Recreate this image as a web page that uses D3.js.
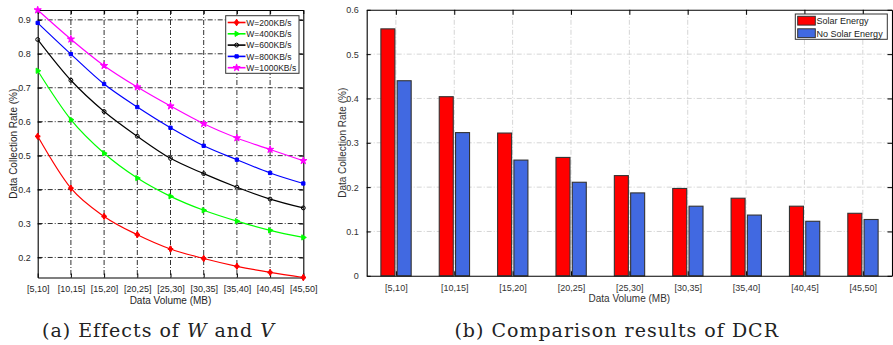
<!DOCTYPE html>
<html>
<head>
<meta charset="utf-8">
<script src="https://cdn.jsdelivr.net/npm/d3@7"></script>
<style>
  html, body { margin: 0; padding: 0; background: #fff; }
  svg { display: block; }
</style>
</head>
<body>
<svg id="fig" width="893" height="345" font-family="Liberation Sans, Arial, sans-serif"></svg>
<script>
// ---- data ----
const categories = ["[5,10]", "[10,15]", "[15,20]", "[20,25]", "[25,30]", "[30,35]", "[35,40]", "[40,45]", "[45,50]"];

const rateW200  = [0.557, 0.404, 0.321, 0.267, 0.225, 0.197, 0.174, 0.156, 0.141];
const rateW400  = [0.750, 0.606, 0.507, 0.434, 0.380, 0.339, 0.307, 0.280, 0.259];
const rateW600  = [0.842, 0.722, 0.630, 0.557, 0.492, 0.447, 0.407, 0.372, 0.346];
const rateW800  = [0.891, 0.799, 0.711, 0.643, 0.582, 0.529, 0.488, 0.449, 0.418];
const rateW1000 = [0.929, 0.843, 0.765, 0.702, 0.646, 0.594, 0.552, 0.518, 0.485];
const lineSeriesNames = ["W=200KB/s", "W=400KB/s", "W=600KB/s", "W=800KB/s", "W=1000KB/s"];

const solarEnergy   = [0.557, 0.404, 0.322, 0.267, 0.226, 0.197, 0.175, 0.157, 0.141];
const noSolarEnergy = [0.440, 0.323, 0.261, 0.211, 0.187, 0.157, 0.137, 0.123, 0.127];
const barSeriesNames = ["Solar Energy", "No Solar Energy"];

const leftYTicks  = [0.2, 0.3, 0.4, 0.5, 0.6, 0.7, 0.8, 0.9];
const rightYTicks = [0, 0.1, 0.2, 0.3, 0.4, 0.5, 0.6];

const svg = d3.select("#fig");

// ================= (a) line chart =================
const A = { left: 37.7, right: 303.3, top: 10, bottom: 277.5 };
const lineSeries = [
  { name: lineSeriesNames[0], values: rateW200,  color: "#ff0000", marker: "plus" },
  { name: lineSeriesNames[1], values: rateW400,  color: "#00ff00", marker: "triangle" },
  { name: lineSeriesNames[2], values: rateW600,  color: "#000000", marker: "circle" },
  { name: lineSeriesNames[3], values: rateW800,  color: "#0000ff", marker: "square" },
  { name: lineSeriesNames[4], values: rateW1000, color: "#ff00ff", marker: "star" }
];

const xA = d3.scalePoint().domain(categories).range([A.left, A.right]);
const allVals = lineSeries.flatMap(s => s.values);
const yA = d3.scaleLinear().domain(d3.extent(allVals)).range([A.bottom, A.top]);

const gA = svg.append("g");

// dash-dot grid
const gridA = gA.append("g")
  .attr("stroke", "#1a1a1a").attr("stroke-width", 0.9)
  .attr("stroke-dasharray", "5,2,1,2");
gridA.selectAll("line.v").data(categories.slice(1, -1)).join("line")
  .attr("x1", d => xA(d)).attr("x2", d => xA(d))
  .attr("y1", A.top).attr("y2", A.bottom);
gridA.selectAll("line.h").data(leftYTicks).join("line")
  .attr("x1", A.left).attr("x2", A.right)
  .attr("y1", d => yA(d)).attr("y2", d => yA(d));

// axes (box with inward ticks)
gA.append("g").attr("transform", `translate(${A.left},0)`)
  .call(d3.axisLeft(yA).tickValues(leftYTicks).tickFormat(d3.format(".1f")).tickSizeInner(-4).tickSizeOuter(0).tickPadding(7));
gA.append("g").attr("transform", `translate(0,${A.bottom})`)
  .call(d3.axisBottom(xA).tickSizeInner(-4).tickSizeOuter(0).tickPadding(8));
gA.append("g").attr("transform", `translate(${A.right},0)`)
  .call(d3.axisRight(yA).tickValues(leftYTicks).tickFormat("").tickSizeInner(-4).tickSizeOuter(0));
gA.append("g").attr("transform", `translate(0,${A.top})`)
  .call(d3.axisTop(xA).tickFormat("").tickSizeInner(-4).tickSizeOuter(0));
gA.selectAll(".domain").attr("stroke", "#000").attr("stroke-width", 1.1);
gA.selectAll(".tick line").attr("stroke", "#000");
gA.selectAll(".tick text").attr("font-size", 9).attr("fill", "#262626")
  .attr("font-family", "Liberation Sans, Arial, sans-serif");

// markers
function markerPath(kind) {
  switch (kind) {
    case "plus": return d3.symbol(d3.symbolDiamond, 12)();
    case "triangle": return d3.symbol(d3.symbolTriangle, 12)();
    case "circle": return d3.symbol(d3.symbolCircle, 12)();
    case "square": return d3.symbol(d3.symbolSquare, 11)();
    case "star": return d3.symbol(d3.symbolStar, 16)();
  }
}
function drawMarker(sel, s) {
  const p = sel.append("path").attr("d", markerPath(s.marker))
    .attr("stroke", s.color).attr("stroke-width", 1);
  if (s.marker === "circle") p.attr("fill", "none");
  else p.attr("fill", s.color);
  if (s.marker === "triangle") p.attr("transform", "rotate(90)");
  if (s.marker === "plus") {
    sel.append("path").attr("d", d3.symbol(d3.symbolCross, 16)())
      .attr("fill", s.color);
  }
}

const line = d3.line().x((d, i) => xA(categories[i])).y(d => yA(d)).curve(d3.curveMonotoneX);
lineSeries.forEach(s => {
  const g = gA.append("g");
  g.append("path").datum(s.values).attr("d", line)
    .attr("fill", "none").attr("stroke", s.color).attr("stroke-width", 1.2);
  g.selectAll("g.pt").data(s.values).join("g")
    .attr("transform", (d, i) => `translate(${xA(categories[i])},${yA(d)})`)
    .each(function () { drawMarker(d3.select(this), s); });
});

// legend (a)
const legA = gA.append("g");
legA.append("rect").attr("x", 225.7).attr("y", 15.7).attr("width", 73.3).attr("height", 57.6)
  .attr("fill", "#fff").attr("stroke", "#333").attr("stroke-width", 1);
lineSeries.forEach((s, i) => {
  const y = 22.5 + i * 11.3;
  const g = legA.append("g");
  g.append("line").attr("x1", 227.7).attr("x2", 245.5).attr("y1", y).attr("y2", y)
    .attr("stroke", s.color).attr("stroke-width", 1.6);
  const m = g.append("g").attr("transform", `translate(236.6,${y})`);
  drawMarker(m, s);
  g.append("text").attr("x", 246.3).attr("y", y + 3.1).attr("font-size", 8.5)
    .attr("fill", "#222").text(s.name);
});

// titles (a)
gA.append("text").attr("transform", `translate(16.5,${(A.top + A.bottom) / 2}) rotate(-90)`)
  .attr("text-anchor", "middle").attr("font-size", 10).attr("fill", "#262626")
  .text("Data Collection Rate (%)");
gA.append("text").attr("x", (A.left + A.right) / 2).attr("y", 303.5)
  .attr("text-anchor", "middle").attr("font-size", 10).attr("fill", "#262626")
  .text("Data Volume (MB)");

// ================= (b) grouped bar chart =================
const B = { left: 366.7, right: 892, top: 9.8, bottom: 275.8 };
const xB = d3.scaleLinear().domain([0.5, categories.length + 0.5]).range([B.left, B.right]);
const yB = d3.scaleLinear().domain([0, 0.6]).range([B.bottom, B.top]);
const gB = svg.append("g");

const gridB = gB.append("g")
  .attr("stroke", "#d0d0d0").attr("stroke-width", 0.9)
  .attr("stroke-dasharray", "5,2,1,2");
gridB.selectAll("line.v").data(categories).join("line")
  .attr("x1", (d, i) => xB(i + 1)).attr("x2", (d, i) => xB(i + 1))
  .attr("y1", B.top).attr("y2", B.bottom);
gridB.selectAll("line.h").data(rightYTicks.slice(1, -1)).join("line")
  .attr("x1", B.left).attr("x2", B.right)
  .attr("y1", d => yB(d)).attr("y2", d => yB(d));

const groups = [
  { name: barSeriesNames[0], values: solarEnergy,   color: "#ff0000", offset: -8 },
  { name: barSeriesNames[1], values: noSolarEnergy, color: "#4169e1", offset: 8.3 }
];
const barW = 14;
groups.forEach(gr => {
  gB.append("g").selectAll("rect").data(gr.values).join("rect")
    .attr("x", (d, i) => xB(i + 1) + gr.offset - barW / 2)
    .attr("y", d => yB(d))
    .attr("width", barW)
    .attr("height", d => yB(0) - yB(d))
    .attr("fill", gr.color)
    .attr("stroke", "#333").attr("stroke-width", 1.1);
});

const xTicksB = categories.map((d, i) => i + 1);
gB.append("g").attr("transform", `translate(0,${B.bottom})`)
  .call(d3.axisBottom(xB).tickValues(xTicksB).tickFormat((d, i) => categories[i])
    .tickSizeInner(-4.5).tickSizeOuter(0).tickPadding(9));
gB.append("g").attr("transform", `translate(0,${B.top})`)
  .call(d3.axisTop(xB).tickValues(xTicksB).tickFormat("").tickSizeInner(-5).tickSizeOuter(0));
gB.append("g").attr("transform", `translate(${B.left},0)`)
  .call(d3.axisLeft(yB).tickValues(rightYTicks).tickFormat(d => d === 0 ? "0" : d3.format(".1f")(d))
    .tickSizeInner(-4).tickSizeOuter(0).tickPadding(8));
gB.append("g").attr("transform", `translate(${B.right},0)`)
  .call(d3.axisRight(yB).tickValues(rightYTicks).tickFormat("").tickSizeInner(-4.5).tickSizeOuter(0));
gB.selectAll(".domain").attr("stroke", "#000").attr("stroke-width", 1.1);
gB.selectAll(".tick line").attr("stroke", "#000");
gB.selectAll(".tick text").attr("font-size", 9).attr("fill", "#333")
  .attr("font-family", "Liberation Sans, Arial, sans-serif");

// legend (b)
const legB = gB.append("g");
legB.append("rect").attr("x", 795.3).attr("y", 14).attr("width", 92).attr("height", 25.3)
  .attr("fill", "#fff").attr("stroke", "#333").attr("stroke-width", 1);
groups.forEach((gr, i) => {
  const y = 16.3 + i * 12.5;
  legB.append("rect").attr("x", 797.7).attr("y", y).attr("width", 17.6).attr("height", 8.8)
    .attr("fill", gr.color).attr("stroke", "#333").attr("stroke-width", 1);
  legB.append("text").attr("x", 816.6).attr("y", y + 7.8).attr("font-size", 9)
    .attr("fill", "#222").text(gr.name);
});

gB.append("text").attr("transform", `translate(345.5,${(B.top + B.bottom) / 2}) rotate(-90)`)
  .attr("text-anchor", "middle").attr("font-size", 10).attr("fill", "#333")
  .text("Data Collection Rate (%)");
gB.append("text").attr("x", (B.left + B.right) / 2).attr("y", 302)
  .attr("text-anchor", "middle").attr("font-size", 10).attr("fill", "#333")
  .text("Data Volume (MB)");

// ================= captions =================
const cap = svg.append("g").attr("font-family", "DejaVu Serif, Liberation Serif, serif")
  .attr("font-size", 19).attr("letter-spacing", 1).attr("fill", "#222");
const capA = cap.append("text").attr("x", 158.5).attr("y", 336.5).attr("text-anchor", "middle");
capA.append("tspan").text("(a) Effects of ");
capA.append("tspan").attr("font-style", "italic").text("W");
capA.append("tspan").text(" and ");
capA.append("tspan").attr("font-style", "italic").text("V");
cap.append("text").attr("x", 616.7).attr("y", 336.5).attr("text-anchor", "middle")
  .text("(b) Comparison results of DCR");
</script>
</body>
</html>
